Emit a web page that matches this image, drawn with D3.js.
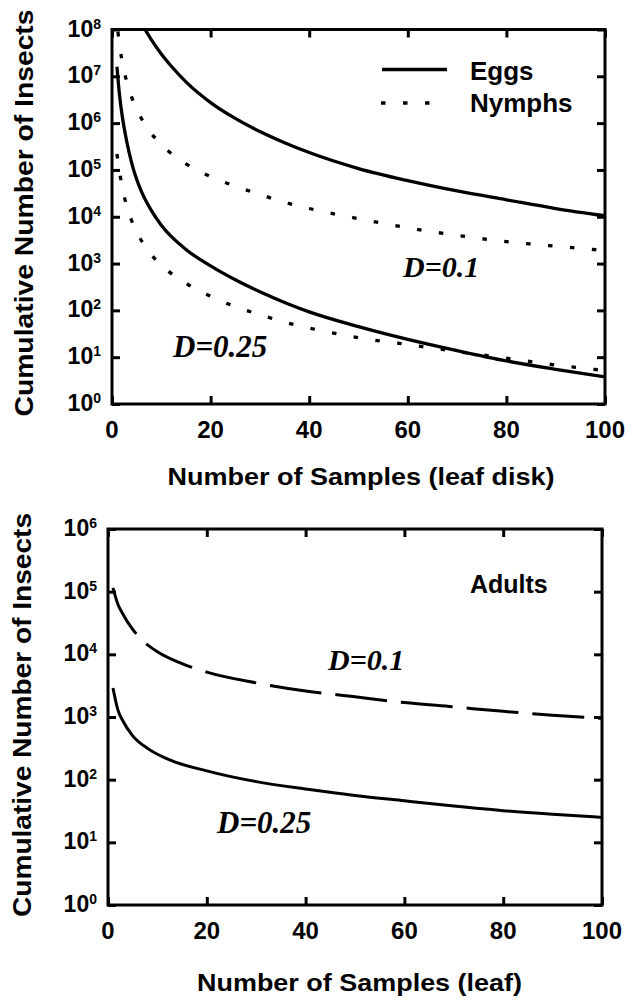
<!DOCTYPE html>
<html>
<head>
<meta charset="utf-8">
<script src="https://cdn.jsdelivr.net/npm/d3@7"></script>
<style>
  body { margin: 0; background: #fff; }
  svg { display: block; }
  text { font-family: "Liberation Sans", Arial, sans-serif; font-weight: bold; fill: #000; }
  .dlabel { font-family: "Liberation Serif", "Times New Roman", serif; font-style: italic; font-weight: bold; }
</style>
</head>
<body>
<div id="chart"></div>
<script>
// x axis ticks shared by both panels
var xTicks = [0, 20, 40, 60, 80, 100];
var topExponents = [0, 1, 2, 3, 4, 5, 6, 7, 8];
var bottomExponents = [0, 1, 2, 3, 4, 5, 6];

// Top panel: eggs and nymphs
var eggsD01X = [6.7, 8, 10, 12, 15, 20, 25, 30, 35, 40, 50, 60, 70, 80, 90, 100];
var eggsD01Y = [1e8, 6.0e7, 3.0e7, 1.66e7, 7.6e6, 2.75e6, 1.26e6, 6.6e5, 3.8e5, 2.35e5, 1.07e5, 5.9e4, 3.55e4, 2.3e4, 1.5e4, 1.05e4];

var eggsD025X = [1, 1.5, 2, 3, 4, 5, 6, 8, 10, 15, 20, 25, 30, 35, 40, 50, 60, 70, 80, 90, 100];
var eggsD025Y = [1.6e7, 4.2e6, 1.6e6, 4e5, 1.4e5, 6.3e4, 3.4e4, 1.35e4, 6.6e3, 2e3, 890, 450, 250, 148, 93, 45, 24, 13.8, 8.3, 5.5, 3.8];

var nymphsD01X = [1.2, 1.6, 2, 3, 4, 5, 7, 10, 15, 20, 25, 30, 35, 40, 50, 60, 70, 80, 90, 100];
var nymphsD01Y = [8.9e7, 4.2e7, 2.24e7, 7.6e6, 3.55e6, 2e6, 8.3e5, 3.5e5, 1.35e5, 7.2e4, 4.5e4, 3e4, 2.04e4, 1.5e4, 9.1e3, 5.8e3, 4e3, 2.95e3, 2.35e3, 1.9e3];

var nymphsD025X = [1, 1.3, 2, 3, 4.5, 7, 10, 15, 20, 25, 30, 35, 40, 50, 60, 70, 80, 90, 100];
var nymphsD025Y = [2.2e5, 1.3e5, 4.8e4, 1.66e4, 6.2e3, 2.1e3, 930, 380, 200, 120, 81, 56, 42, 26, 18.6, 13.2, 9.5, 6.8, 5.2];

// Bottom panel: adults
var adultsD01X = [1, 2, 3, 5, 7, 10, 15, 20, 30, 40, 50, 60, 70, 80, 90, 100];
var adultsD01Y = [1.15e5, 6.3e4, 4.4e4, 2.5e4, 1.66e4, 1.1e4, 7.1e3, 5.2e3, 3.5e3, 2.6e3, 2.1e3, 1.7e3, 1.45e3, 1.23e3, 1.07e3, 950];

var adultsD025X = [1, 2, 3, 5, 8, 12, 20, 30, 40, 50, 60, 70, 80, 90, 100];
var adultsD025Y = [2.9e3, 1.3e3, 870, 500, 316, 214, 138, 93, 71, 56, 46, 38, 32, 28, 25];

var svg = d3.select("#chart").append("svg")
    .attr("width", 628)
    .attr("height", 1000);

// pair up x and y arrays
function zipSeries(xs, ys) {
    return xs.map(function (v, i) { return [v, ys[i]]; });
}

function drawPanel(cfg) {
    var x = d3.scaleLinear().domain([0, 100]).range([cfg.left, cfg.right]);
    var y = d3.scaleLog().domain([1, cfg.yMax]).range([cfg.bottom, cfg.top]);
    var g = svg.append("g").attr("id", cfg.id);

    g.append("clipPath").attr("id", cfg.id + "-clip")
        .append("rect")
        .attr("x", cfg.left).attr("y", cfg.top)
        .attr("width", cfg.right - cfg.left).attr("height", cfg.bottom - cfg.top);

    // inward ticks on all four sides
    var tickVals = cfg.exponents.map(function (e) { return Math.pow(10, e); });
    var axes = [
        [d3.axisBottom(x).tickValues(xTicks), "translate(0," + cfg.bottom + ")"],
        [d3.axisTop(x).tickValues(xTicks), "translate(0," + cfg.top + ")"],
        [d3.axisLeft(y).tickValues(tickVals), "translate(" + cfg.left + ",0)"],
        [d3.axisRight(y).tickValues(tickVals), "translate(" + cfg.right + ",0)"]
    ];
    axes.forEach(function (a) {
        var ag = g.append("g").attr("transform", a[1])
            .call(a[0].tickSize(-8).tickSizeOuter(0).tickFormat(""));
        ag.select(".domain").remove();
        ag.selectAll("line").attr("stroke", "#000").attr("stroke-width", 3);
    });

    // frame
    g.append("rect")
        .attr("x", cfg.left).attr("y", cfg.top)
        .attr("width", cfg.right - cfg.left).attr("height", cfg.bottom - cfg.top)
        .attr("fill", "none").attr("stroke", "#000").attr("stroke-width", 3);

    // x tick labels
    g.selectAll(".xlab").data(xTicks).enter().append("text")
        .attr("class", "xlab")
        .attr("x", function (d) { return x(d); })
        .attr("y", cfg.bottom + 34)
        .attr("text-anchor", "middle")
        .style("font-size", "24px")
        .text(function (d) { return d; });

    // y tick labels as 10 with superscript exponent
    var ylab = g.selectAll(".ylab").data(cfg.exponents).enter().append("text")
        .attr("class", "ylab")
        .attr("x", cfg.left - 11)
        .attr("y", function (d) { return y(Math.pow(10, d)) + 7; })
        .attr("text-anchor", "end")
        .style("font-size", "23px");
    ylab.append("tspan").text("10");
    ylab.append("tspan").attr("dy", -8).style("font-size", "14px").text(function (d) { return d; });

    // axis titles
    g.append("text")
        .attr("transform", "translate(" + cfg.yTitleX + "," + cfg.yTitleY + ") rotate(-90)")
        .attr("text-anchor", "middle")
        .attr("textLength", cfg.yTitleLen)
        .attr("lengthAdjust", "spacingAndGlyphs")
        .style("font-size", "25px")
        .text("Cumulative Number of Insects");

    g.append("text")
        .attr("x", cfg.xTitleX).attr("y", cfg.xTitleY)
        .attr("text-anchor", "middle")
        .attr("textLength", cfg.xTitleLen)
        .attr("lengthAdjust", "spacingAndGlyphs")
        .style("font-size", "23px")
        .text(cfg.xTitle);

    // curves
    var line = d3.line()
        .x(function (d) { return x(d[0]); })
        .y(function (d) { return y(d[1]); })
        .curve(d3.curveMonotoneX);

    var curves = g.append("g").attr("clip-path", "url(#" + cfg.id + "-clip)");
    cfg.series.forEach(function (s) {
        curves.append("path")
            .datum(s.data)
            .attr("d", line)
            .attr("fill", "none")
            .attr("stroke", "#000")
            .attr("stroke-width", s.width)
            .attr("stroke-dasharray", s.dash || null);
    });

    // D labels
    cfg.labels.forEach(function (l) {
        g.append("text")
            .attr("class", "dlabel")
            .attr("x", l.x).attr("y", l.y)
            .style("font-size", l.size + "px")
            .text(l.text);
    });
    return g;
}

var dotted = "4.5,17.5";

var topPanel = drawPanel({
    id: "top",
    left: 112, right: 605, top: 29.5, bottom: 404,
    yMax: 1e8, exponents: topExponents,
    yTitleX: 33, yTitleY: 213, yTitleLen: 407,
    xTitle: "Number of Samples (leaf disk)", xTitleX: 361, xTitleY: 485, xTitleLen: 387,
    series: [
        { data: zipSeries(eggsD01X, eggsD01Y), width: 3.3 },
        { data: zipSeries(eggsD025X, eggsD025Y), width: 3.3 },
        { data: zipSeries(nymphsD01X, nymphsD01Y), width: 3.3, dash: dotted },
        { data: zipSeries(nymphsD025X, nymphsD025Y), width: 3.3, dash: dotted }
    ],
    labels: [
        { text: "D=0.1", x: 403, y: 277, size: 30 },
        { text: "D=0.25", x: 173, y: 357, size: 31 }
    ]
});

// legend
topPanel.append("line").attr("x1", 382).attr("x2", 447).attr("y1", 69.5).attr("y2", 69.5)
    .attr("stroke", "#000").attr("stroke-width", 3.3);
topPanel.append("line").attr("x1", 381).attr("x2", 432).attr("y1", 103).attr("y2", 103)
    .attr("stroke", "#000").attr("stroke-width", 3.3).attr("stroke-dasharray", dotted);
topPanel.append("text").attr("x", 470).attr("y", 80).style("font-size", "26px").text("Eggs");
topPanel.append("text").attr("x", 470).attr("y", 112).style("font-size", "26px").text("Nymphs");

var bottomPanel = drawPanel({
    id: "bottom",
    left: 108, right: 602, top: 529, bottom: 905,
    yMax: 1e6, exponents: bottomExponents,
    yTitleX: 31, yTitleY: 715, yTitleLen: 404,
    xTitle: "Number of Samples (leaf)", xTitleX: 359.5, xTitleY: 991, xTitleLen: 325,
    series: [
        { data: zipSeries(adultsD01X, adultsD01Y), width: 3, dash: "52,14" },
        { data: zipSeries(adultsD025X, adultsD025Y), width: 3 }
    ],
    labels: [
        { text: "D=0.1", x: 328, y: 670, size: 30 },
        { text: "D=0.25", x: 217, y: 833, size: 31 }
    ]
});

bottomPanel.append("text").attr("x", 470).attr("y", 593).style("font-size", "25px").text("Adults");
</script>
</body>
</html>
